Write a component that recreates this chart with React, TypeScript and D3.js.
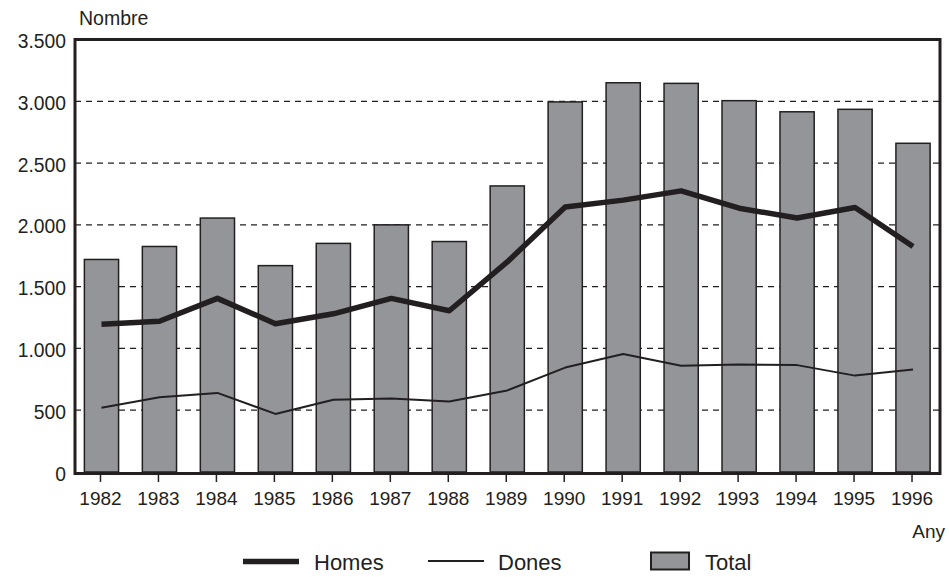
import React from "react";
import * as d3 from "d3";

const years = ["1982", "1983", "1984", "1985", "1986", "1987", "1988", "1989", "1990", "1991", "1992", "1993", "1994", "1995", "1996"];
const total = [1720, 1825, 2055, 1670, 1850, 2000, 1865, 2315, 2995, 3150, 3145, 3005, 2915, 2935, 2660];
const homes = [1195, 1220, 1405, 1200, 1280, 1405, 1305, 1700, 2145, 2200, 2275, 2135, 2055, 2140, 1825];
const dones = [520, 605, 640, 470, 585, 595, 570, 660, 845, 955, 860, 870, 865, 780, 830];
const yTicks = [0, 500, 1000, 1500, 2000, 2500, 3000, 3500];

const width = 949;
const height = 577;
const ink = "#231f20";
const barFill = "#939598";
const font = "Liberation Sans, Arial, sans-serif";

// plot frame
const left = 75;
const right = 940;
const top = 39.5;
const bottom = 472;

export default function App() {
  const x = d3.scaleBand<string>().domain(years).range([72.5, 942]).paddingInner(0.41).paddingOuter(0.205);
  const y = d3.scaleLinear().domain([0, 3500]).range([bottom, top]);
  const cx = (i: number) => (x(years[i]) as number) + x.bandwidth() / 2;

  const line = d3
    .line<number>()
    .x((d, i) => cx(i))
    .y((d) => y(d));

  const fmt = (v: number) => d3.format(",")(v).replace(/,/g, ".");

  return (
    <svg
      width={width}
      height={height}
      style={{ position: "absolute", left: 0, top: 0, background: "#fff" }}
      fontFamily={font}
    >
      {/* grid */}
      <g stroke={ink} strokeWidth={1.3} strokeDasharray="6 5">
        {yTicks.filter((t) => t > 0 && t < 3500).map((t) => (
          <line key={t} x1={left} x2={right} y1={y(t)} y2={y(t)} />
        ))}
      </g>

      {/* bars */}
      <g fill={barFill} stroke={ink} strokeWidth={1.5}>
        {total.map((v, i) => (
          <rect key={years[i]} x={x(years[i])} y={y(v)} width={x.bandwidth()} height={bottom - y(v)} />
        ))}
      </g>

      {/* lines */}
      <path d={line(dones) || ""} fill="none" stroke={ink} strokeWidth={2} strokeLinejoin="round" />
      <path d={line(homes) || ""} fill="none" stroke={ink} strokeWidth={5.5} strokeLinejoin="round" />

      {/* frame */}
      <rect x={left} y={top} width={right - left} height={bottom - top + 1.5} fill="none" stroke={ink} strokeWidth={3} />

      {/* y axis labels */}
      <g fontSize={19.3} fill={ink} textAnchor="end">
        {yTicks.map((t) => (
          <text key={t} x={66} y={y(t) + 8.5}>
            {fmt(t)}
          </text>
        ))}
      </g>
      <text x={79} y={25} fontSize={19.5} fill={ink}>
        Nombre
      </text>

      {/* x axis ticks */}
      <g stroke={ink} strokeWidth={1.5}>
        {years.map((yr, i) => (
          <line key={yr} x1={cx(i) - 1} x2={cx(i) - 1} y1={bottom + 2} y2={bottom + 10} />
        ))}
      </g>
      <g fontSize={19} fill={ink} textAnchor="middle">
        {years.map((yr, i) => (
          <text key={yr} x={cx(i) - 1} y={505}>
            {yr}
          </text>
        ))}
      </g>
      <text x={945} y={538} fontSize={19} fill={ink} textAnchor="end">
        Any
      </text>

      {/* legend */}
      <g fontSize={22} fill={ink}>
        <line x1={243} x2={299} y1={561.5} y2={561.5} stroke={ink} strokeWidth={5.5} />
        <text x={314} y={569.5}>Homes</text>
        <line x1={428} x2={484} y1={561} y2={561} stroke={ink} strokeWidth={1.8} />
        <text x={498} y={569.5}>Dones</text>
        <rect x={651} y={552.5} width={38} height={17} fill={barFill} stroke={ink} strokeWidth={2} />
        <text x={705} y={569.5}>Total</text>
      </g>
    </svg>
  );
}
